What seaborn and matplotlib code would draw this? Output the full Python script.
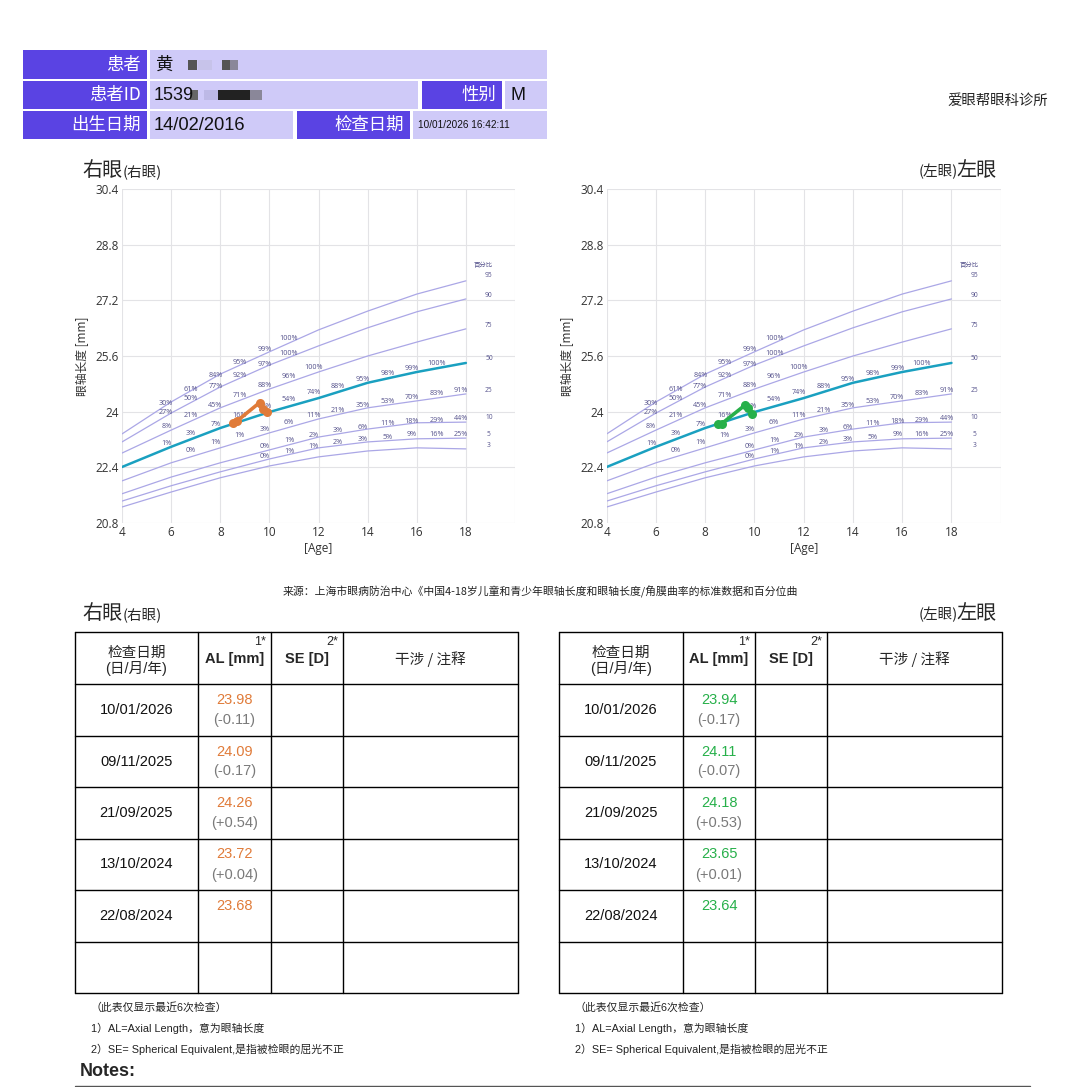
import pandas as pd
import matplotlib.pyplot as plt
import seaborn as sns
from matplotlib.patches import Rectangle

# ---- percentile curves (axial length, mm) at ages 4..18 ----
ages = [4, 6, 8, 10, 12, 14, 16, 18]
p95 = [23.36, 24.28, 25.08, 25.72, 26.35, 26.89, 27.38, 27.76]
p90 = [23.13, 23.96, 24.71, 25.34, 25.89, 26.41, 26.87, 27.24]
p75 = [22.81, 23.47, 24.11, 24.65, 25.14, 25.60, 26.00, 26.38]
p50 = [22.41, 22.99, 23.53, 23.99, 24.39, 24.83, 25.14, 25.40]
p25 = [22.01, 22.53, 22.96, 23.39, 23.79, 24.11, 24.31, 24.51]
p10 = [21.64, 22.12, 22.53, 22.90, 23.27, 23.50, 23.68, 23.70]
p5 = [21.43, 21.87, 22.27, 22.64, 22.96, 23.13, 23.22, 23.24]
p3 = [21.26, 21.69, 22.10, 22.44, 22.70, 22.87, 22.96, 22.93]
pct_names = ["95", "90", "75", "50", "25", "10", "5", "3"]
pct_end = [27.90, 27.35, 26.49, 25.54, 24.62, 23.82, 23.33, 23.04]

# percentage labels printed along the curves: (age, mm, text)
pct_labels = [
    (5.8, 24.24, "30%"), (5.8, 23.98, "27%"), (5.8, 23.57, "8%"), (5.8, 23.09, "1%"),
    (6.8, 24.65, "61%"), (6.8, 24.37, "50%"), (6.8, 23.88, "21%"), (6.8, 23.37, "3%"), (6.8, 22.87, "0%"),
    (7.8, 25.03, "84%"), (7.8, 24.72, "77%"), (7.8, 24.18, "45%"), (7.8, 23.62, "7%"), (7.8, 23.11, "1%"),
    (8.8, 25.42, "95%"), (8.8, 25.05, "92%"), (8.8, 24.47, "71%"), (8.8, 23.88, "16%"), (8.8, 23.31, "1%"),
    (9.8, 25.79, "99%"), (9.8, 25.36, "97%"), (9.8, 24.75, "88%"), (9.8, 24.14, "33%"), (9.8, 23.50, "3%"),
    (9.8, 23.00, "0%"), (9.8, 22.71, "0%"),
    (10.8, 26.11, "100%"), (10.8, 25.67, "100%"), (10.8, 25.01, "96%"), (10.8, 24.34, "54%"),
    (10.8, 23.68, "6%"), (10.8, 23.17, "1%"), (10.8, 22.86, "1%"),
    (11.8, 25.26, "100%"), (11.8, 24.55, "74%"), (11.8, 23.88, "11%"), (11.8, 23.32, "2%"), (11.8, 23.00, "1%"),
    (12.8, 24.72, "88%"), (12.8, 24.04, "21%"), (12.8, 23.45, "3%"), (12.8, 23.11, "2%"),
    (13.8, 24.93, "95%"), (13.8, 24.17, "35%"), (13.8, 23.55, "6%"), (13.8, 23.19, "3%"),
    (14.8, 25.09, "98%"), (14.8, 24.29, "53%"), (14.8, 23.65, "11%"), (14.8, 23.25, "5%"),
    (15.8, 25.24, "99%"), (15.8, 24.41, "70%"), (15.8, 23.71, "18%"), (15.8, 23.33, "9%"),
    (16.8, 25.39, "100%"), (16.8, 24.52, "83%"), (16.8, 23.76, "29%"), (16.8, 23.35, "16%"),
    (17.8, 24.62, "91%"), (17.8, 23.79, "44%"), (17.8, 23.33, "25%"),
]

# ---- patient ----
birth = "14/02/2016"
exam_dates = ["10/01/2026", "09/11/2025", "21/09/2025", "13/10/2024", "22/08/2024"]
al_right = [23.98, 24.09, 24.26, 23.72, 23.68]
al_left = [23.94, 24.11, 24.18, 23.65, 23.64]

ORANGE = "#e07b39"
GREEN = "#27b04a"
TEAL = "#1aa0c0"
LAV = "#aba7e6"
PURPLE = "#5a43e3"
LILAC = "#cfcaf8"

sns.set_theme(style="whitegrid")
plt.rcParams['font.family'] = ['Liberation Sans', 'Noto Sans CJK SC']
CJK = ['Noto Sans CJK SC', 'Liberation Sans']
CHART = ['Open Sans', 'Noto Sans CJK SC']

fig = plt.figure(figsize=(10.8, 10.87), dpi=100)
fig.patch.set_facecolor("white")
ov = fig.add_axes([0, 0, 1, 1])
ov.set_xlim(0, 1080)
ov.set_ylim(1087, 0)
ov.axis("off")

curves = pd.DataFrame({"age": ages * 8,
                       "al": p95 + p90 + p75 + p50 + p25 + p10 + p5 + p3,
                       "pct": sum([[n] * len(ages) for n in pct_names], [])})


def patient_frame(al):
    d = pd.DataFrame({"date": pd.to_datetime(exam_dates, dayfirst=True), "al": al})
    d["age"] = (d["date"] - pd.to_datetime(birth, dayfirst=True)).dt.days / 365.25
    return d.sort_values("age")


def draw_chart(rect, al, color):
    ax = fig.add_axes(rect)
    others = curves[curves["pct"] != "50"]
    sns.lineplot(data=others, x="age", y="al", units="pct", estimator=None,
                 color=LAV, lw=0.9, ax=ax)
    sns.lineplot(data=curves[curves["pct"] == "50"], x="age", y="al",
                 color=TEAL, lw=1.8, ax=ax)
    sns.lineplot(data=patient_frame(al), x="age", y="al", color=color, lw=2.6,
                 marker="o", markersize=6.5, markeredgewidth=0, ax=ax, zorder=5)
    for a, v, t in pct_labels:
        ax.text(a, v, t, fontsize=5.2, color="#55528c", ha="center", va="center",
                family=CHART)
    ax.text(18.72, 28.22, "百分比", fontsize=4.6, color="#55528c", ha="center",
            va="center", family=CJK)
    for n, v in zip(pct_names, pct_end):
        ax.text(18.94, v, n, fontsize=4.8, color="#55528c", ha="center", va="center",
                family=CHART)
    ax.set_xlim(4, 20)
    ax.set_ylim(20.8, 30.4)
    ax.set_xticks([4, 6, 8, 10, 12, 14, 16, 18, 20])
    ax.set_xticklabels(["4", "6", "8", "10", "12", "14", "16", "18", ""])
    yt = [20.8, 22.4, 24, 25.6, 27.2, 28.8, 30.4]
    ax.set_yticks(yt)
    ax.set_yticklabels([f"{v:g}" for v in yt])
    ax.grid(color="#e3e3e6", lw=0.8)
    for s in ax.spines.values():
        s.set_visible(False)
    ax.tick_params(length=0, pad=2, labelsize=8.5, colors="#333333")
    for lab in ax.get_xticklabels() + ax.get_yticklabels():
        lab.set_family(CHART)
    ax.set_xlabel("[Age]", fontsize=8.5, color="#333333", labelpad=2, family=CHART)
    ax.set_ylabel("眼轴长度 [mm]", fontsize=8.5, color="#333333", labelpad=5, family=CJK)
    return ax


draw_chart([122 / 1080, 1 - 523 / 1087, 393 / 1080, 334 / 1087], al_right, ORANGE)
draw_chart([606.7 / 1080, 1 - 523 / 1087, 394 / 1080, 334 / 1087], al_left, GREEN)

# ---- header block ----
def cell(x0, x1, y0, y1, fc):
    ov.add_patch(Rectangle((x0, y0), x1 - x0, y1 - y0, fc=fc, ec="none"))


rows = [(50, 79), (81, 109), (111, 139)]
cell(23, 147, *rows[0], PURPLE)
cell(150, 547, *rows[0], LILAC)
cell(23, 147, *rows[1], PURPLE)
cell(150, 418, *rows[1], LILAC)
cell(422, 502, *rows[1], PURPLE)
cell(505, 547, *rows[1], LILAC)
cell(23, 147, *rows[2], PURPLE)
cell(150, 293, *rows[2], LILAC)
cell(297, 410, *rows[2], PURPLE)
cell(413, 547, *rows[2], LILAC)
hdr = dict(fontsize=12.5, va="center", family=CJK)
ov.text(141, 65, "患者", color="white", ha="right", **hdr)
ov.text(141, 95, "患者ID", color="white", ha="right", **hdr)
ov.text(141, 125, "出生日期", color="white", ha="right", **hdr)
ov.text(496, 95, "性别", color="white", ha="right", **hdr)
ov.text(404, 125, "检查日期", color="white", ha="right", **hdr)
ov.text(156, 65, "黄", color="#111111", ha="left", **hdr)
ov.text(154, 95, "1539", color="#111111", ha="left", fontsize=13, va="center")
ov.text(511, 95, "M", color="#111111", ha="left", fontsize=13, va="center")
ov.text(154, 125, "14/02/2016", color="#111111", ha="left", fontsize=13.2, va="center")
ov.text(418, 125, "10/01/2026 16:42:11", color="#111111", ha="left", fontsize=7.2,
        va="center")
# redacted blocks
for x0, x1, c in [(188, 197, "#555555"), (198, 212, "#c7c3ea"), (222, 230, "#555555"),
                  (230, 238, "#8a8799")]:
    cell(x0, x1, 60, 70, c)
for x0, x1, c in [(190, 198, "#666666"), (204, 218, "#bdb9e6"), (218, 250, "#222222"),
                  (250, 262, "#8a8799")]:
    cell(x0, x1, 90, 100, c)
ov.text(1048, 101, "爱眼帮眼科诊所", fontsize=10.4, ha="right", va="center",
        color="#222222", family=CJK)


def eye_title(y, right_side):
    if not right_side:
        ov.text(82, y, "右眼", fontsize=14.5, ha="left", va="baseline", family=CJK)
        ov.text(122.5, y, "(右眼)", fontsize=10.5, ha="left", va="baseline", family=CJK)
    else:
        ov.text(997, y, "左眼", fontsize=14.5, ha="right", va="baseline", family=CJK)
        ov.text(957.5, y, "(左眼)", fontsize=10.5, ha="right", va="baseline", family=CJK)


eye_title(176, False)
eye_title(176, True)
eye_title(619, False)
eye_title(619, True)

ov.text(540, 592, "来源：上海市眼病防治中心《中国4-18岁儿童和青少年眼轴长度和眼轴长度/角膜曲率的标准数据和百分位曲",
        fontsize=7.8, ha="center", va="center", color="#222222", family=CJK)

# ---- tables ----
row_lines = [632, 684, 736, 787, 839, 890, 942, 993]


def draw_table(x0, cols, al, color):
    x1 = cols[-1]
    for y in row_lines:
        ov.plot([x0, x1], [y, y], color="black", lw=1.0)
    for x in [x0] + cols:
        ov.plot([x, x], [row_lines[0], row_lines[-1]], color="black", lw=1.0)
    c_date = (x0 + cols[0]) / 2
    c_al = (cols[0] + cols[1]) / 2
    c_se = (cols[1] + cols[2]) / 2
    c_note = (cols[2] + cols[3]) / 2
    ov.text(c_date, 653, "检查日期", fontsize=10.5, ha="center", va="center", family=CJK)
    ov.text(c_date, 669, "(日/月/年)", fontsize=10.5, ha="center", va="center")
    ov.text(c_al, 659, "AL [mm]", fontsize=10.5, ha="center", va="center", weight="bold")
    ov.text(cols[1] - 5, 642, "1*", fontsize=9, ha="right", va="center")
    ov.text(c_se, 659, "SE [D]", fontsize=10.5, ha="center", va="center", weight="bold")
    ov.text(cols[2] - 5, 642, "2*", fontsize=9, ha="right", va="center")
    ov.text(c_note, 659, "干涉 / 注释", fontsize=10.5, ha="center", va="center", family=CJK)
    deltas = [al[i] - al[i + 1] for i in range(len(al) - 1)] + [None]
    for i, (d, v, dl) in enumerate(zip(exam_dates, al, deltas)):
        mid = (row_lines[i + 1] + row_lines[i + 2]) / 2
        ov.text(c_date, mid, d, fontsize=10.5, ha="center", va="center", color="#111111")
        ov.text(c_al, mid - 10, f"{v:.2f}", fontsize=10.5, ha="center", va="center",
                color=color)
        if dl is not None:
            ov.text(c_al, mid + 10, f"({dl:+.2f})", fontsize=10.5, ha="center",
                    va="center", color="#7a7a7a")
    notes = ["（此表仅显示最近6次检查）",
             "1）AL=Axial Length，意为眼轴长度",
             "2）SE= Spherical Equivalent,是指被检眼的屈光不正"]
    for y, t in zip([1007, 1028, 1049], notes):
        ov.text(x0 + 16, y, t, fontsize=7.8, ha="left", va="center", color="#222222")


draw_table(75, [198, 271, 343, 518], al_right, ORANGE)
draw_table(559, [683, 755, 827, 1002], al_left, GREEN)

ov.text(80, 1072, "Notes:", fontsize=13, weight="bold", ha="left", va="center")
ov.plot([75, 1030], [1086, 1086], color="#555555", lw=1.0)

fig.savefig("out.png", dpi=100, facecolor="white")
